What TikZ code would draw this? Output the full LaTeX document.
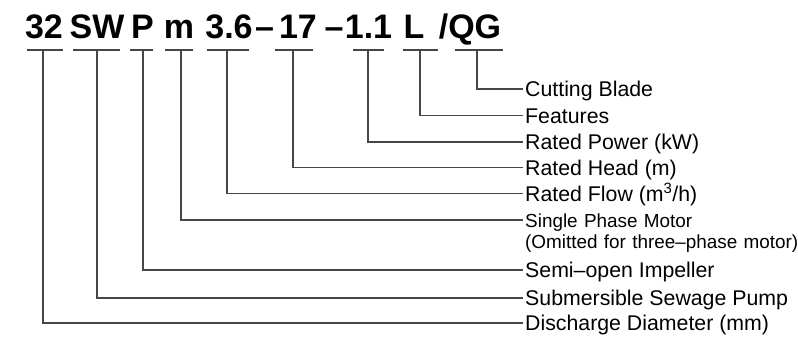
\documentclass[tikz,border=0pt]{standalone}
\usepackage{fontspec}
\setmainfont{Liberation Sans}
\begin{document}
\begin{tikzpicture}[x=1pt,y=-1pt,
  code/.style={inner sep=0pt,anchor=base,font=\fontsize{34}{38}\selectfont\bfseries},
  lab/.style={inner xsep=2pt,inner ysep=0pt,text height=15pt,text depth=0pt,anchor=west,font=\fontsize{21.3}{25}\selectfont},
  ln/.style={line width=1.1pt,draw=black!72}]
\useasboundingbox (0,0) rectangle (798,338);
% code pieces
\node[code] (c1) at (44,38) {32};
\node[code] (c2) at (97,38) {SW};
\node[code] (c3) at (142.5,38) {P};
\node[code] (c4) at (179,38) {m};
\node[code] (c5) at (229,38) {3.6};
\node[code] (d1) at (264.5,38) {–};
\node[code] (c6) at (298,38) {17};
\node[code] (d2) at (334,38) {–};
\node[code] (c7) at (368.5,38) {1.1};
\node[code] (c8) at (414,38) {L};
\node[code] (c9) at (470,38) {/QG};
% underline bars
\draw[ln] (27,50) -- (63,50);
\draw[ln] (73,50) -- (120,50);
\draw[ln] (130,50) -- (153,50);
\draw[ln] (165,50) -- (193,50);
\draw[ln] (207,50) -- (249,50);
\draw[ln] (275,50) -- (313,50);
\draw[ln] (353,50) -- (384,50);
\draw[ln] (403,50) -- (438,50);
\draw[ln] (455,50) -- (503,50);
\coordinate (s1) at (43,50);
\coordinate (s2) at (97,50);
\coordinate (s3) at (143,50);
\coordinate (s4) at (181,50);
\coordinate (s5) at (227,50);
\coordinate (s6) at (293,50);
\coordinate (s7) at (368,50);
\coordinate (s8) at (420,50);
\coordinate (s9) at (477,50);
% labels
\node[lab] (l9) at (523,89) {Cutting Blade};
\node[lab] (l8) at (523,115.5) {Features};
\node[lab] (l7) at (523,142) {Rated Power (kW)};
\node[lab] (l6) at (523,167.5) {Rated Head (m)};
\node[lab] (l5) at (523,193.5) {Rated Flow (m\textsuperscript{3}/h)};
\coordinate (e4) at (523,220);
\node[inner xsep=2pt,inner ysep=0pt,anchor=base west,text width=276pt,align=left,
  font=\fontsize{18.9}{21}\selectfont] (l4) at (523,227.5)
  {Single Phase Motor\\(Omitted for three–phase motor)};
\node[lab] (l3) at (523,270) {Semi–open Impeller};
\node[lab] (l2) at (523,298) {Submersible Sewage Pump};
\node[lab] (l1) at (523,323) {Discharge Diameter (mm)};
% connectors
\draw[ln] (s9) |- (l9.west);
\draw[ln] (s8) |- (l8.west);
\draw[ln] (s7) |- (l7.west);
\draw[ln] (s6) |- (l6.west);
\draw[ln] (s5) |- (l5.west);
\draw[ln] (s4) |- (e4);
\draw[ln] (s3) |- (l3.west);
\draw[ln] (s2) |- (l2.west);
\draw[ln] (s1) |- (l1.west);
\end{tikzpicture}
\end{document}
